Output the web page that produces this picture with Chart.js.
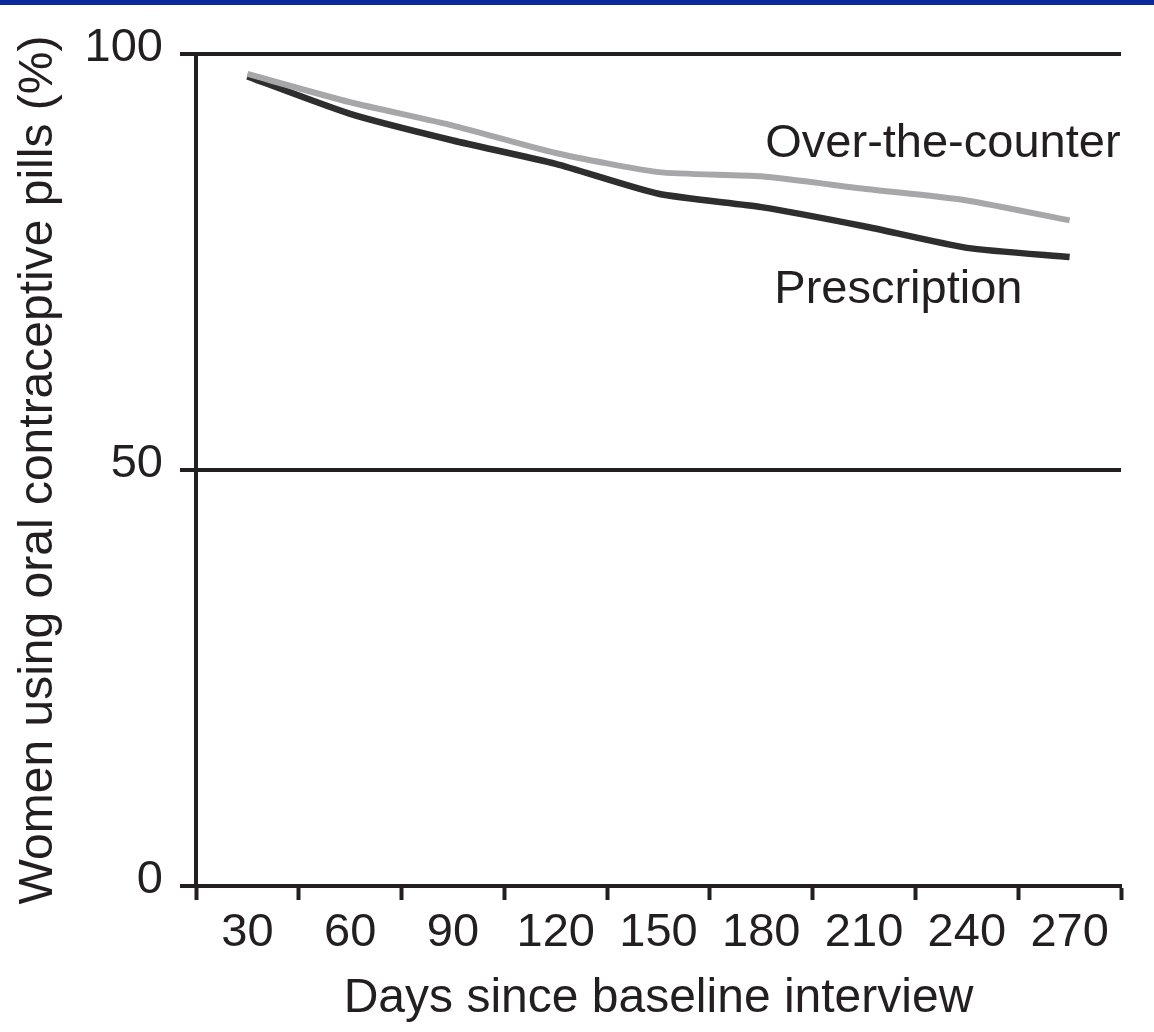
<!DOCTYPE html>
<html>
<head>
<meta charset="utf-8">
<script src="https://cdn.jsdelivr.net/npm/chart.js@4.4.0/dist/chart.umd.min.js"></script>
<style>
    body { margin: 0; background: #fff; }
    #wrap { position: relative; width: 1154px; height: 1032px; }
    #topbar { position: absolute; left: 0; top: 0; width: 1154px; height: 5px; background: #0a2a9e; }
</style>
</head>
<body>
<div id="wrap">
    <canvas id="pillChart" width="1154" height="1032"></canvas>
    <div id="topbar"></div>
</div>
<script>
const days = ['30', '60', '90', '120', '150', '180', '210', '240', '270'];
const seriesNames = ['Over-the-counter', 'Prescription'];
const otcValues = [97.6, 94.2, 91.4, 88.1, 85.8, 85.3, 83.8, 82.4, 80.0];
const prescriptionValues = [97.3, 92.8, 89.6, 86.8, 83.2, 81.6, 79.3, 76.7, 75.6];
const yTickValues = [0, 50, 100];

document.addEventListener('DOMContentLoaded', function() {
    const ink = '#231f20';
    const fontFamily = '"Liberation Sans", Arial, sans-serif';

    Chart.defaults.font.family = fontFamily;
    Chart.defaults.font.size = 47;
    Chart.defaults.color = ink;

    // series names written next to the lines
    const lineLabels = {
        id: 'lineLabels',
        afterDatasetsDraw(chart) {
            const { ctx, scales: { x, y } } = chart;
            ctx.save();
            ctx.font = '47px ' + fontFamily;
            ctx.fillStyle = ink;
            ctx.textAlign = 'left';
            ctx.textBaseline = 'middle';
            ctx.fillText(seriesNames[0], x.getPixelForValue(5) + 4, y.getPixelForValue(89.2));
            ctx.fillText(seriesNames[1], x.getPixelForValue(5) + 13, y.getPixelForValue(71.6));
            ctx.restore();
        }
    };

    const ctx = document.getElementById('pillChart').getContext('2d');
    new Chart(ctx, {
        type: 'line',
        data: {
            labels: days,
            datasets: [{
                label: seriesNames[0],
                data: otcValues,
                borderColor: '#a7a7a9',
                borderWidth: 6,
                pointRadius: 0,
                tension: 0.2,
                fill: false
            }, {
                label: seriesNames[1],
                data: prescriptionValues,
                borderColor: '#2e2e2e',
                borderWidth: 6.5,
                pointRadius: 0,
                tension: 0.2,
                fill: false
            }]
        },
        options: {
            responsive: false,
            devicePixelRatio: 1,
            animation: false,
            layout: {
                padding: { top: 54, right: 33, left: 0, bottom: 0 }
            },
            plugins: {
                legend: { display: false },
                tooltip: { enabled: false }
            },
            scales: {
                x: {
                    type: 'category',
                    offset: true,
                    afterFit: scale => { scale.height = 146; },
                    grid: {
                        offset: true,
                        drawOnChartArea: false,
                        drawTicks: true,
                        tickLength: 14,
                        tickWidth: 4,
                        tickColor: ink
                    },
                    border: { display: true, color: ink, width: 4 },
                    ticks: {
                        padding: 5,
                        maxRotation: 0,
                        autoSkip: false,
                        font: { size: 47 }
                    },
                    title: {
                        display: true,
                        text: 'Days since baseline interview',
                        font: { size: 48 },
                        padding: { top: 0, bottom: 4 }
                    }
                },
                y: {
                    min: 0,
                    max: 100,
                    afterFit: scale => { scale.width = 196; },
                    afterBuildTicks: scale => {
                        scale.ticks = yTickValues.map(v => ({ value: v }));
                    },
                    grid: {
                        color: ink,
                        lineWidth: 4,
                        tickLength: 16,
                        tickColor: ink
                    },
                    border: { display: true, color: ink, width: 4 },
                    ticks: {
                        padding: 17,
                        labelOffset: -6,
                        font: { size: 47 }
                    },
                    title: {
                        display: true,
                        text: 'Women using oral contraceptive pills (%)',
                        font: { size: 48 },
                        padding: { top: 10, bottom: 0 }
                    }
                }
            }
        },
        plugins: [lineLabels]
    });
});
</script>
</body>
</html>
